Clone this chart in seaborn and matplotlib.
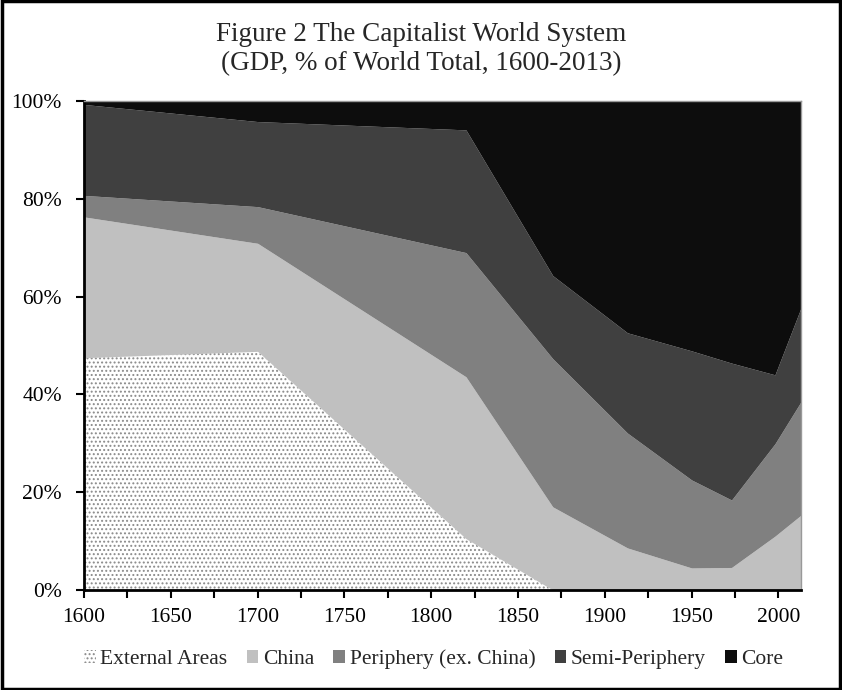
import matplotlib
matplotlib.use("Agg")
import matplotlib.pyplot as plt
from matplotlib.patches import Patch, Rectangle
from matplotlib.ticker import MultipleLocator, PercentFormatter
import seaborn as sns
import pandas as pd
import numpy as np

# GDP shares (% of world total)
years = [1600, 1700, 1820, 1870, 1913, 1950, 1973, 1998, 2013]
external_areas = [47.5, 48.8, 10.5, 0.0, 0.0, 0.0, 0.0, 0.0, 0.0]
china = [28.8, 22.1, 33.1, 17.0, 8.6, 4.5, 4.6, 11.0, 15.3]
periphery = [4.4, 7.5, 25.4, 30.3, 23.5, 18.0, 13.8, 18.9, 23.2]
semi_periphery = [18.6, 17.4, 25.1, 17.0, 20.5, 26.4, 28.0, 14.1, 19.2]
core = [0.7, 4.2, 5.9, 35.7, 47.4, 51.1, 53.6, 56.0, 42.3]

labels = ["External Areas", "China", "Periphery (ex. China)", "Semi-Periphery", "Core"]
colors = ["white", "#c0c0c0", "#808080", "#404040", "#0d0d0d"]

df = pd.DataFrame({
    "year": years,
    "External Areas": external_areas,
    "China": china,
    "Periphery (ex. China)": periphery,
    "Semi-Periphery": semi_periphery,
    "Core": core,
})

sns.set_theme(style="white")
plt.rcParams["font.family"] = ["Liberation Serif", "DejaVu Serif"]
plt.rcParams["hatch.color"] = "#8a8a8a"
plt.rcParams["hatch.linewidth"] = 0.9

fig = plt.figure(figsize=(8.42, 6.9), dpi=100)
ax = fig.add_axes([0.0998, 0.145, 0.8515, 0.7086])

polys = ax.stackplot(df["year"], [df[c] for c in labels], colors=colors,
                     linewidth=0, labels=labels)
polys[0].set_hatch("....")
polys[0].set_edgecolor("#8a8a8a")
polys[0].set_linewidth(0)

ax.set_xlim(1600, 2013)
ax.set_ylim(0, 100)
ax.xaxis.set_major_locator(MultipleLocator(50))
ax.xaxis.set_minor_locator(MultipleLocator(25))
ax.yaxis.set_major_locator(MultipleLocator(20))
ax.yaxis.set_major_formatter(PercentFormatter(decimals=0))
ax.tick_params(axis="both", which="both", direction="out", colors="black",
               labelsize=15.5, length=6, width=1.5, bottom=True, left=True)
ax.tick_params(axis="y", pad=10)
ax.tick_params(axis="x", pad=7)

for s in ["left", "bottom"]:
    ax.spines[s].set_color("black")
    ax.spines[s].set_linewidth(2)
for s in ["top", "right"]:
    ax.spines[s].set_color("#999999")
    ax.spines[s].set_linewidth(1)
ax.grid(False)

fig.text(0.5, 0.968, "Figure 2 The Capitalist World System\n(GDP, % of World Total, 1600-2013)",
         ha="center", va="top", fontsize=19.5, linespacing=1.22)

handles = []
for lab, col in zip(labels, colors):
    if lab == "External Areas":
        handles.append(Patch(facecolor="white", edgecolor="#8a8a8a", hatch="....", linewidth=0, label=lab))
    else:
        handles.append(Patch(facecolor=col, edgecolor=col, linewidth=0, label=lab))
fig.legend(handles=handles, loc="center", bbox_to_anchor=(0.515, 0.045), ncol=5,
           frameon=False, fontsize=15.5, handlelength=0.55, handleheight=0.55,
           handletextpad=0.2, columnspacing=0.9)

fig.add_artist(Rectangle((0.002, 0.002), 0.996, 0.996, transform=fig.transFigure,
                         fill=False, edgecolor="black", linewidth=2.5))

fig.savefig("out.png", dpi=100)
plt.close(fig)
